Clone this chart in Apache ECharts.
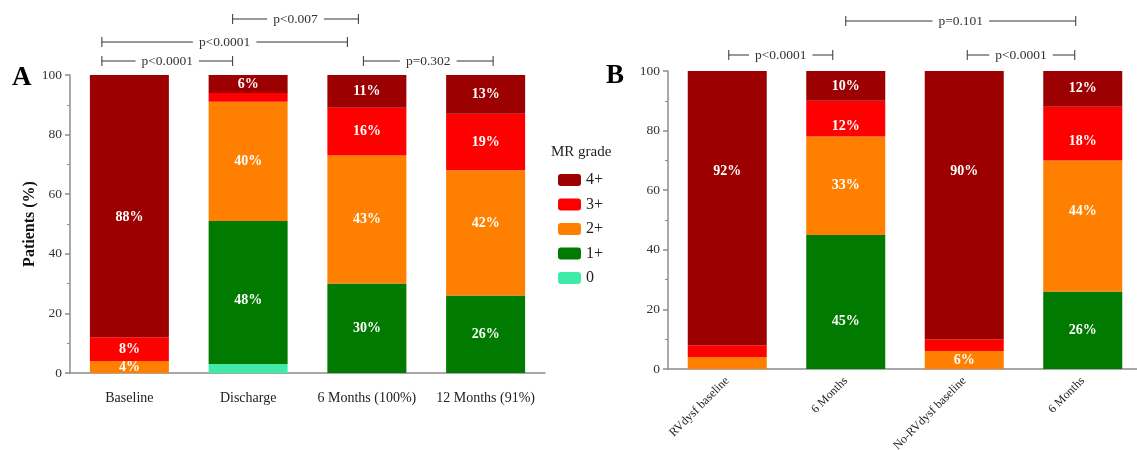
<!DOCTYPE html>
<html><head><meta charset="utf-8">
<script src="https://cdn.jsdelivr.net/npm/echarts@6/dist/echarts.min.js"></script>
<style>html,body{margin:0;padding:0;background:#fff}#c{width:1137px;height:450px}</style>
</head><body><div id="c"></div>
<script>
// ---------- data ----------
const grades = ['0', '1+', '2+', '3+', '4+'];
const legendOrder = ['4+', '3+', '2+', '1+', '0'];

const categoriesA = ['Baseline', 'Discharge', '6 Months (100%)', '12 Months (91%)'];
const gradeA_0  = [0, 3, 0, 0];
const gradeA_1  = [0, 48, 30, 26];
const gradeA_2  = [4, 40, 43, 42];
const gradeA_3  = [8, 3, 16, 19];
const gradeA_4  = [88, 6, 11, 13];

const categoriesB = ['RVdysf baseline', '6 Months', 'No-RVdysf baseline', '6 Months'];
const gradeB_0  = [0, 0, 0, 0];
const gradeB_1  = [0, 45, 0, 26];
const gradeB_2  = [4, 33, 6, 44];
const gradeB_3  = [4, 12, 4, 18];
const gradeB_4  = [92, 10, 90, 12];

const yTicks = [0, 20, 40, 60, 80, 100];

// significance brackets: [fromCategory, toCategory, text]
const bracketsA = [
  [0, 1, 'p<0.0001'],
  [0, 2, 'p<0.0001'],
  [1, 2, 'p<0.007'],
  [2, 3, 'p=0.302']
];
const bracketsB = [
  [0, 1, 'p<0.0001'],
  [1, 3, 'p=0.101'],
  [2, 3, 'p<0.0001']
];

// ---------- styling / layout (not data) ----------
const serif = '"Liberation Serif","Times New Roman",serif';
const gradeColors = {'4+': '#9c0000', '3+': '#ff0000', '2+': '#ff8000', '1+': '#007a00', '0': '#40eaa9'};
const axisGray = '#8c8c8c';
const textDark = '#333';

const valuesA = {'0': gradeA_0, '1+': gradeA_1, '2+': gradeA_2, '3+': gradeA_3, '4+': gradeA_4};
const valuesB = {'0': gradeB_0, '1+': gradeB_1, '2+': gradeB_2, '3+': gradeB_3, '4+': gradeB_4};

// labels not printed in the reference
const hiddenA = new Set(['1|0', '1|3+']);
const hiddenB = new Set(['0|2+', '0|3+', '2|3+']);
// vertical label nudges (px) as placed in the reference
const nudgeA = {'0|4+': 11, '1|1+': 8, '3|2+': -10};
const nudgeB = {'0|4+': -37, '1|1+': 19, '1|3+': 8, '2|4+': -34, '3|2+': -15, '3|3+': 8};

// bracket geometry (px offsets from category centres, y position)
const bracketGeomA = [[-27.5, -15.5, 61], [-27.5, -19.5, 42], [-15.5, -8.5, 19], [-3.5, 7.5, 61]];
const bracketGeomB = [[1.5, -13, 55], [0, -7, 21], [3, -8, 55]];

function makeSeries(gi, values, hidden, nudge) {
  return grades.map(g => ({
    name: g, type: 'bar', stack: 'p' + gi, xAxisIndex: gi, yAxisIndex: gi,
    barWidth: 79,
    itemStyle: {color: gradeColors[g]},
    emphasis: {disabled: true},
    label: {
      show: true, position: 'inside', color: '#fff', fontFamily: serif,
      fontWeight: 'bold', fontSize: 14, formatter: p => p.value + '%'
    },
    data: values[g].map((v, i) => {
      const k = i + '|' + g;
      return {value: v, label: {show: v > 0 && !hidden.has(k), offset: [0, nudge[k] || 0]}};
    })
  }));
}

function yAxis(gi, name) {
  return {
    type: 'value', gridIndex: gi, min: 0, max: 100, interval: 20,
    name: name, nameLocation: 'middle', nameGap: 28, nameRotate: 90,
    nameTextStyle: {fontFamily: serif, fontWeight: 'bold', fontSize: 16, color: '#111'},
    axisLine: {show: true, lineStyle: {color: axisGray, width: 1.5}},
    axisTick: {show: true, length: 5, lineStyle: {color: axisGray, width: 1.5}},
    minorTick: {show: true, splitNumber: 2, length: 3, lineStyle: {color: axisGray, width: 1}},
    splitLine: {show: false},
    axisLabel: {fontFamily: serif, fontSize: 13.5, color: textDark, margin: 8,
      formatter: v => yTicks.includes(v) ? String(v) : ''}
  };
}

const chart = echarts.init(document.getElementById('c'));
chart.setOption({
  animation: false,
  backgroundColor: '#fff',
  grid: [
    {left: 70, top: 75, width: 475, height: 298, outerBoundsMode: 'none', containLabel: false},
    {left: 668, top: 71, width: 474, height: 298, outerBoundsMode: 'none', containLabel: false}
  ],
  xAxis: [
    {type: 'category', gridIndex: 0, data: categoriesA,
     axisLine: {lineStyle: {color: axisGray, width: 1.5}},
     axisTick: {alignWithLabel: true, length: 5, lineStyle: {color: axisGray, width: 1.5}},
     axisLabel: {fontFamily: serif, fontSize: 14, color: '#222', margin: 18, interval: 0}},
    {type: 'category', gridIndex: 1, data: categoriesB,
     axisLine: {lineStyle: {color: axisGray, width: 1.5}},
     axisTick: {alignWithLabel: true, length: 5, lineStyle: {color: axisGray, width: 1.5}},
     axisLabel: {fontFamily: serif, fontSize: 12, color: '#222', rotate: 45, margin: 10, interval: 0}}
  ],
  yAxis: [yAxis(0, 'Patients (%)'), yAxis(1, '')],
  legend: {
    data: legendOrder, orient: 'vertical', left: 553, top: 167,
    itemWidth: 23, itemHeight: 12, itemGap: 8.5,
    textStyle: {fontFamily: serif, fontSize: 16, color: '#222'},
    selectedMode: false
  },
  series: makeSeries(0, valuesA, hiddenA, nudgeA).concat(makeSeries(1, valuesB, hiddenB, nudgeB))
});

// ---------- annotations ----------
const measureCtx = document.createElement('canvas').getContext('2d');
const bracketFont = '13.5px "Liberation Serif","Times New Roman",serif';
measureCtx.font = bracketFont;

function bracketGraphics(gi, list, geom) {
  const out = [];
  list.forEach((b, j) => {
    const [c1, c2, txt] = b;
    const [d1, d2, y] = geom[j];
    const x1 = chart.convertToPixel({xAxisIndex: gi}, c1) + d1;
    const x2 = chart.convertToPixel({xAxisIndex: gi}, c2) + d2;
    const mid = (x1 + x2) / 2;
    const tw = measureCtx.measureText(txt).width;
    const gap = 6;
    const ls = {stroke: '#333', lineWidth: 1};
    out.push({type: 'line', shape: {x1: x1, y1: y, x2: mid - tw / 2 - gap, y2: y}, style: ls, silent: true});
    out.push({type: 'line', shape: {x1: mid + tw / 2 + gap, y1: y, x2: x2, y2: y}, style: ls, silent: true});
    out.push({type: 'line', shape: {x1: x1, y1: y - 5, x2: x1, y2: y + 5}, style: ls, silent: true});
    out.push({type: 'line', shape: {x1: x2, y1: y - 5, x2: x2, y2: y + 5}, style: ls, silent: true});
    out.push({type: 'text', x: mid, y: y, silent: true,
      style: {text: txt, font: bracketFont, fill: '#333', textAlign: 'center', textVerticalAlign: 'middle'}});
  });
  return out;
}

const graphics = [
  {type: 'text', left: 12, top: 65, silent: true,
   style: {text: 'A', font: 'bold 27px "Liberation Serif","Times New Roman",serif', fill: '#000'}},
  {type: 'text', left: 606, top: 63, silent: true,
   style: {text: 'B', font: 'bold 27px "Liberation Serif","Times New Roman",serif', fill: '#000'}},
  {type: 'text', left: 551, top: 145, silent: true,
   style: {text: 'MR grade', font: '15px "Liberation Serif","Times New Roman",serif', fill: '#222'}}
].concat(bracketGraphics(0, bracketsA, bracketGeomA), bracketGraphics(1, bracketsB, bracketGeomB));

chart.setOption({graphic: graphics});
</script>
</body></html>
